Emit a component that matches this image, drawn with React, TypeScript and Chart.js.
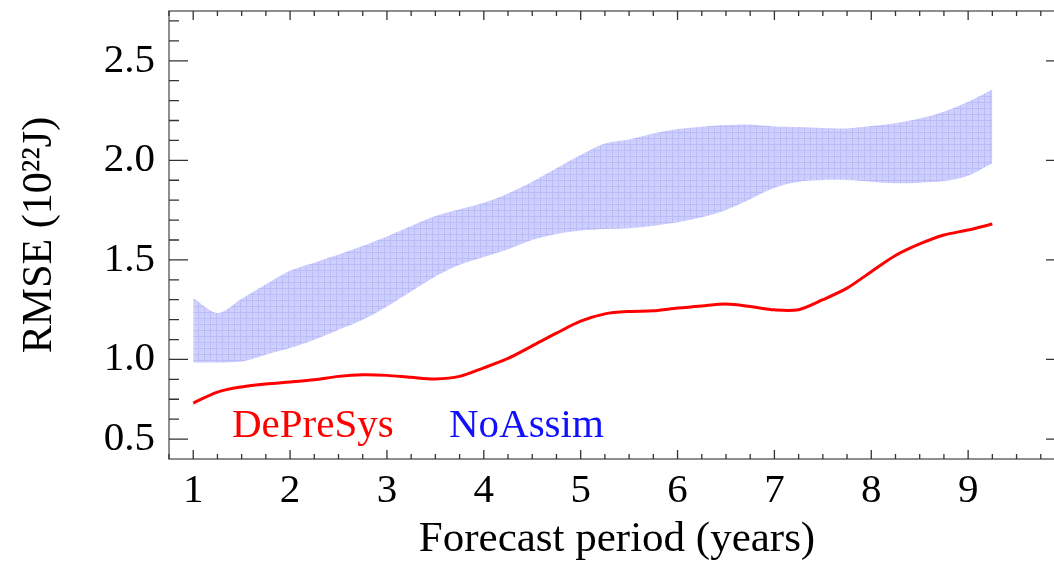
import { useEffect, useRef } from "react";
import { Chart, registerables } from "chart.js";

Chart.register(...registerables);

// forecast period in years (quarter-year steps)
const years = [
  1, 1.25, 1.5, 1.75, 2, 2.25, 2.5, 2.75, 3, 3.25, 3.5, 3.75, 4, 4.25, 4.5, 4.75, 5,
  5.25, 5.5, 5.75, 6, 6.25, 6.5, 6.75, 7, 7.25, 7.5, 7.75, 8, 8.25, 8.5, 8.75, 9, 9.25,
];

// NoAssim spread (lower / upper edge of the shaded band)
const noAssimLow = [
  0.985, 0.985, 0.99, 1.024, 1.057, 1.099, 1.149, 1.199, 1.266, 1.341, 1.416, 1.475,
  1.515, 1.554, 1.6, 1.63, 1.647, 1.655, 1.659, 1.672, 1.689, 1.714, 1.751, 1.805,
  1.862, 1.893, 1.901, 1.901, 1.893, 1.885, 1.888, 1.896, 1.923, 1.985,
];
const noAssimHigh = [
  1.308, 1.233, 1.305, 1.378, 1.446, 1.486, 1.527, 1.57, 1.617, 1.67, 1.72, 1.754,
  1.787, 1.834, 1.893, 1.96, 2.027, 2.085, 2.105, 2.135, 2.157, 2.169, 2.177, 2.18,
  2.17, 2.167, 2.162, 2.16, 2.172, 2.186, 2.21, 2.244, 2.294, 2.356,
];

// DePreSys RMSE
const dePreSys = [
  0.781, 0.836, 0.862, 0.877, 0.887, 0.898, 0.915, 0.923, 0.92, 0.91, 0.902, 0.915,
  0.958, 1.005, 1.068, 1.132, 1.192, 1.229, 1.241, 1.244, 1.258, 1.269, 1.278, 1.266,
  1.249, 1.25, 1.3, 1.358, 1.441, 1.522, 1.58, 1.625, 1.65, 1.68,
];

const xTickValues = [1, 2, 3, 4, 5, 6, 7, 8, 9];
const yTickValues = [0.6, 1.0, 1.5, 2.0, 2.5];
const yTickLabels = ["0.5", "1.0", "1.5", "2.0", "2.5"];

const SERIF = "'Liberation Serif', 'Times New Roman', serif";

function stepList(from: number, to: number, step: number) {
  const out: number[] = [];
  for (let v = from; v <= to + 1e-9; v += step) out.push(Math.round(v * 100) / 100);
  return out;
}

const isMajor = (v: number, majors: number[]) => majors.some((m) => Math.abs(m - v) < 1e-6);

// frame + inward ticks on all four sides, plus the in-plot labels
const framePlugin = {
  id: "frame",
  afterDraw(chart: any) {
    const { ctx, chartArea, scales } = chart;
    const { left, right, top, bottom } = chartArea;
    const x = scales.x;
    const y = scales.y;
    ctx.save();
    ctx.strokeStyle = "#6a6a6a";
    ctx.lineWidth = 1.5;
    ctx.strokeRect(left, top, right - left, bottom - top);

    ctx.strokeStyle = "#333";
    ctx.lineWidth = 1.3;
    ctx.beginPath();
    for (const v of stepList(0.75, 10, 0.25)) {
      const px = x.getPixelForValue(v);
      const len = isMajor(v, xTickValues) ? 9 : 5;
      ctx.moveTo(px, bottom);
      ctx.lineTo(px, bottom - len);
      ctx.moveTo(px, top);
      ctx.lineTo(px, top + len);
    }
    for (const v of stepList(0.6, 2.7, 0.1)) {
      const py = y.getPixelForValue(v);
      const len = isMajor(v, yTickValues) ? 19 : 10;
      ctx.moveTo(left, py);
      ctx.lineTo(left + len, py);
      ctx.moveTo(right, py);
      ctx.lineTo(right - len, py);
    }
    ctx.stroke();

    ctx.font = `41px ${SERIF}`;
    ctx.textBaseline = "alphabetic";
    ctx.textAlign = "left";
    ctx.fillStyle = "#ff0000";
    ctx.fillText("DePreSys", x.getPixelForValue(1.4), y.getPixelForValue(0.612));
    ctx.fillStyle = "#1010ff";
    ctx.fillText("NoAssim", x.getPixelForValue(3.64), y.getPixelForValue(0.612));
    ctx.restore();
  },
};

function makePattern() {
  const pc = document.createElement("canvas");
  pc.width = 6;
  pc.height = 6;
  const g = pc.getContext("2d")!;
  g.fillStyle = "#d0d0fb";
  g.fillRect(0, 0, 6, 6);
  g.fillStyle = "#babcf7";
  g.fillRect(0, 0, 6, 1);
  g.fillRect(0, 0, 1, 6);
  g.fillStyle = "#e0c8f5";
  g.fillRect(3, 3, 1, 1);
  g.fillStyle = "#c2cbfa";
  g.fillRect(2, 2, 3, 1);
  return g.createPattern(pc, "repeat");
}

export default function App() {
  const canvasRef = useRef<HTMLCanvasElement>(null);

  useEffect(() => {
    const canvas = canvasRef.current;
    if (!canvas) return;

    const bandFill = makePattern() || "#c8c8fa";

    const chart = new Chart(canvas, {
      type: "line",
      data: {
        labels: years,
        datasets: [
          {
            label: "NoAssim low",
            data: years.map((yr, i) => ({ x: yr, y: noAssimLow[i] })),
            borderWidth: 0,
            pointRadius: 0,
            fill: false,
            tension: 0.3,
          },
          {
            label: "NoAssim high",
            data: years.map((yr, i) => ({ x: yr, y: noAssimHigh[i] })),
            borderWidth: 0,
            pointRadius: 0,
            backgroundColor: bandFill as any,
            fill: "-1",
            tension: 0.3,
          },
          {
            label: "DePreSys",
            data: years.map((yr, i) => ({ x: yr, y: dePreSys[i] })),
            borderColor: "#ff0000",
            borderWidth: 3,
            pointRadius: 0,
            fill: false,
            tension: 0.3,
          },
        ],
      },
      options: {
        responsive: true,
        maintainAspectRatio: false,
        animation: false,
        layout: { padding: { top: 11, right: 20, left: 0, bottom: 0 } },
        plugins: {
          legend: { display: false },
          tooltip: { enabled: false },
        },
        scales: {
          x: {
            type: "linear",
            min: 0.75,
            max: 10,
            grid: { display: false },
            border: { display: false },
            afterBuildTicks: (scale: any) => {
              scale.ticks = xTickValues.map((v) => ({ value: v }));
            },
            afterFit: (scale: any) => {
              scale.height = 102;
              scale.paddingLeft = 0;
              scale.paddingRight = 0;
            },
            ticks: {
              autoSkip: false,
              maxRotation: 0,
              padding: 0,
              color: "#000",
              font: { family: SERIF, size: 41 },
              callback: (v: any) => String(v),
            },
            title: {
              display: true,
              text: "Forecast period (years)",
              color: "#000",
              font: { family: SERIF, size: 43, lineHeight: 1.0 },
              padding: { top: 0, bottom: 0 },
            },
          },
          y: {
            type: "linear",
            min: 0.5,
            max: 2.75,
            grid: { display: false },
            border: { display: false },
            afterBuildTicks: (scale: any) => {
              scale.ticks = yTickValues.map((v) => ({ value: v }));
            },
            afterFit: (scale: any) => {
              scale.width = 169;
              scale.paddingTop = 0;
              scale.paddingBottom = 0;
            },
            ticks: {
              autoSkip: false,
              padding: 6,
              color: "#000",
              font: { family: SERIF, size: 41 },
              callback: (v: any) => {
                const i = yTickValues.findIndex((t) => Math.abs(t - Number(v)) < 1e-6);
                return i >= 0 ? yTickLabels[i] : "";
              },
            },
            title: {
              display: true,
              text: "RMSE (10²²J)",
              color: "#000",
              font: { family: SERIF, size: 42 },
              padding: { top: 15, bottom: 0 },
            },
          },
        },
      },
      plugins: [framePlugin],
    });

    return () => chart.destroy();
  }, []);

  return (
    <div
      style={{
        position: "fixed",
        left: 0,
        top: 0,
        width: 1054,
        height: 561,
        overflow: "hidden",
        background: "#fff",
      }}
    >
      <div style={{ position: "relative", width: 1085, height: 561 }}>
        <canvas ref={canvasRef} />
      </div>
    </div>
  );
}
